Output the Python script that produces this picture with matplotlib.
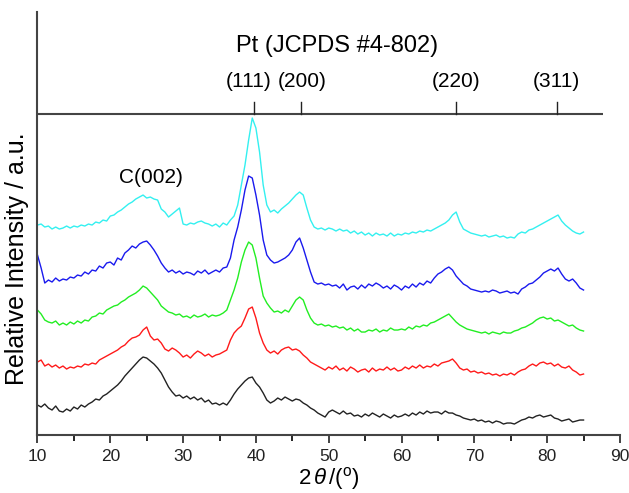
"""XRD patterns of Pt/C samples with Pt (JCPDS #4-802) reference positions."""

import matplotlib

matplotlib.use("Agg")
import matplotlib.pyplot as plt
import numpy as np

plt.rcParams["font.family"] = ["Liberation Sans", "DejaVu Sans"]
plt.rcParams["mathtext.fontset"] = "custom"
plt.rcParams["mathtext.rm"] = "Liberation Sans"
plt.rcParams["mathtext.it"] = "Liberation Sans:italic"

# sampling grid of the traces (2theta, degrees)
two_theta = np.arange(10.0, 85.25, 0.5)

# Trace readings, as depth on the page (a.u., larger = lower),
# one value per 0.5 deg, 10 per row (10.0-14.5, 15.0-19.5, ...).
cyan_trace = [
    225, 224, 227, 226, 229, 227, 229, 228, 226, 228,
    226, 227, 225, 226, 224, 225, 222, 223, 220, 221,
    216, 215, 212, 210, 207, 204, 202, 199, 197, 195,
    198, 197, 199, 200, 209, 212, 217, 214, 211, 208,
    224, 225, 223, 224, 222, 221, 223, 224, 226, 224,
    227, 223, 225, 220, 216, 205, 185, 165, 140, 118,
    128, 152, 185, 205, 212, 210, 213, 209, 206, 203,
    199, 195, 192, 195, 208, 220, 227, 229, 228, 230,
    228, 229, 231, 229, 231, 230, 233, 231, 234, 232,
    235, 233, 236, 233, 235, 234, 236, 233, 236, 234,
    235, 233, 234, 232, 233, 231, 232, 230, 231, 229,
    227, 225, 223, 220, 215, 212, 222, 229, 231, 233,
    234, 235, 236, 235, 237, 236, 235, 237, 236, 238,
    237, 238, 234, 232, 233, 230, 229, 227, 225, 223,
    221, 219, 217, 215, 221, 225, 228, 231, 233, 234,
    232,
]
blue_trace = [
    255, 268, 283, 280, 282, 278, 281, 279, 280, 277,
    278, 275, 276, 272, 274, 270, 271, 266, 268, 263,
    262, 265, 258, 260, 253, 250, 246, 248, 244, 242,
    241, 245, 250, 256, 263, 268, 272, 270, 273, 271,
    274, 272, 273, 275, 271, 273, 270, 274, 272, 270,
    272, 268, 267, 258, 240, 227, 210, 190, 176, 178,
    195, 215, 240, 255, 260, 263, 262, 260, 258, 255,
    250, 242, 238, 248, 260, 272, 282, 284, 283, 285,
    284, 286, 285, 288, 284, 290, 287, 286, 289, 285,
    288, 284, 286, 283, 285, 288, 286, 289, 285, 287,
    290, 286, 288, 284, 287, 283, 285, 281, 283, 278,
    274, 272, 269, 267, 270, 276, 280, 284, 286, 289,
    290, 291, 292, 291, 292, 290, 291, 293, 292, 291,
    293, 292, 294, 289, 287, 284, 283, 280, 277, 273,
    271, 269, 271, 268, 274, 279, 281, 279, 283, 288,
    290,
]
green_trace = [
    310, 314, 320, 322, 323, 321, 325, 323, 325, 322,
    324, 321, 323, 320, 321, 317, 316, 313, 314, 310,
    308, 306, 305, 302, 300, 297, 295, 293, 290, 286,
    288, 292, 296, 300, 306, 309, 312, 313, 315, 314,
    317, 316, 318, 315, 317, 316, 314, 317, 315, 316,
    315, 313, 310, 300, 290, 278, 262, 250, 242, 245,
    258, 278, 296, 303, 308, 312, 311, 313, 310, 312,
    306, 300, 297, 300, 310, 318, 323, 325, 324, 326,
    325, 327, 326, 328, 327, 330, 328, 331, 329, 332,
    332, 330, 331, 329, 332, 330, 331, 328, 330, 330,
    329, 330, 327, 329, 326, 327, 325, 326, 323, 322,
    320, 318, 316, 314, 318, 322, 325, 327, 329, 330,
    331, 332, 333, 332, 334, 332, 333, 334, 332, 333,
    333, 331, 330, 328, 327, 325, 323, 320, 318, 317,
    319, 318, 321, 320, 322, 324, 326, 325, 328, 330,
    331,
]
red_trace = [
    362, 360, 366, 364, 367, 365, 368, 366, 369, 367,
    368, 366, 367, 364, 365, 363, 364, 360, 358, 356,
    354, 352, 350, 347, 345, 341, 338, 337, 335, 330,
    327, 336, 340, 339, 343, 349, 351, 348, 350, 353,
    357, 355, 358, 354, 351, 353, 356, 354, 357, 355,
    354, 352, 350, 340, 333, 329, 326, 318, 309, 307,
    318, 333, 343, 350, 353, 351, 354, 350, 348, 347,
    350, 349, 351, 355, 358, 362, 364, 366, 368, 370,
    367, 369, 366, 370, 368, 371, 367, 369, 372, 370,
    369, 372, 368, 371, 369, 370, 367, 370, 368, 371,
    370, 367, 369, 366, 368, 365, 368, 366, 367, 364,
    366, 363, 362, 361, 359, 363, 368, 370, 369, 372,
    371, 373, 372, 374, 373, 375, 374, 376, 374, 375,
    373, 375, 372, 370, 369, 366, 364, 366, 363, 362,
    364, 363, 366, 364, 367, 368, 366, 370, 372, 375,
    374,
]
black_trace = [
    405, 407, 404, 408, 410, 406, 411, 412, 409, 411,
    407, 409, 405, 407, 404, 402, 399, 400, 396, 394,
    391, 388, 385, 381, 376, 372, 368, 364, 360, 357,
    358, 361, 364, 368, 373, 380, 387, 392, 396, 395,
    398, 396, 399, 397, 400, 398, 402, 400, 404, 403,
    405, 403, 405, 400, 394, 389, 385, 381, 378, 377,
    383, 387, 393, 400, 403, 401, 398, 400, 397, 399,
    401, 399, 400, 403, 405, 408, 410, 413, 415, 417,
    412, 410, 412, 414, 411, 414, 413, 416, 415, 417,
    414, 416, 413, 415, 417, 414, 416, 418, 415, 417,
    416, 414, 416, 413, 415, 412, 414, 411, 413, 412,
    412, 414, 411, 413, 413, 415, 416, 418, 419, 420,
    419, 421, 420, 422, 421, 423, 421, 422, 424, 423,
    423, 424, 422, 420, 419, 417, 418, 416, 415, 417,
    416, 415, 418, 419, 421, 420, 419, 422, 421, 420,
    420,
]

traces = [black_trace, red_trace, green_trace, blue_trace, cyan_trace]
colors = ["#222222", "#ff1a1a", "#22ee22", "#1a1aee", "#33f0f0"]

# Pt reference reflections
pt_hkl = ["(111)", "(200)", "(220)", "(311)"]
pt_pos = [39.8, 46.2, 67.5, 81.3]

BASE = 435  # depth of the x axis in the reading scale
Y_TOP = 423
REF_Y = 321  # height of the reference bar
X_MIN, X_MAX, REF_END = 10, 90, 87.7

fig = plt.figure(figsize=(6.29, 4.93), dpi=100)
ax = fig.add_axes([0.0596, 0.1176, 0.926, 0.858])

for vals, c in zip(traces, colors):
    assert len(vals) == len(two_theta)
    ax.plot(two_theta, BASE - np.asarray(vals), color=c, lw=1.0)

# reference bar with Pt stick positions
ax.plot([X_MIN, REF_END], [REF_Y, REF_Y], color="#444444", lw=1.5, solid_capstyle="butt")
for pos in pt_pos:
    ax.plot([pos, pos], [REF_Y, REF_Y + 12], color="#222222", lw=1.0)
label_shift = [-4, 1, 0, 0]
for hkl, pos, dx in zip(pt_hkl, pt_pos, label_shift):
    ax.annotate(hkl, (pos, REF_Y + 33), xytext=(dx, 0), textcoords="offset points",
                ha="center", va="center", fontsize=15)
ax.text(51.1, REF_Y + 68, "Pt (JCPDS #4-802)", ha="center", va="center", fontsize=17)
ax.text(25.6, 258, "C(002)", ha="center", va="center", fontsize=15)

ax.set_xlim(X_MIN, X_MAX)
ax.set_ylim(0, Y_TOP)
ax.set_xticks(np.arange(10, 91, 10))
ax.set_xticks(np.arange(15, 90, 10), minor=True)
ax.set_yticks([])
ax.tick_params(axis="x", which="major", direction="out", length=6, width=1.2,
               labelsize=12.5, pad=4, colors="#222222")
ax.tick_params(axis="x", which="minor", direction="out", length=4, width=1.2)
for side in ("top", "right"):
    ax.spines[side].set_visible(False)
for side in ("left", "bottom"):
    ax.spines[side].set_linewidth(1.5)
    ax.spines[side].set_color("#444444")

ax.set_xlabel(r"2$\,\it{\theta}\,$/($^{\rm o}$)", fontsize=16, labelpad=1)
ax.set_ylabel("Relative Intensity / a.u.", fontsize=18)
ax.yaxis.set_label_coords(-0.014, 0.418)

fig.savefig("out.png", dpi=100)
